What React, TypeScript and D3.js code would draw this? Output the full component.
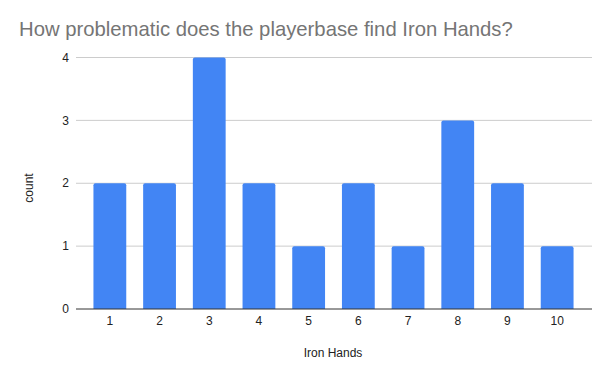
import React from "react";
import * as d3 from "d3";

const categories = ["1", "2", "3", "4", "5", "6", "7", "8", "9", "10"];
const counts = [2, 2, 4, 2, 1, 2, 1, 3, 2, 1];
const yTicks = [0, 1, 2, 3, 4];

const W = 610;
const H = 377;

export default function App() {
  const x = d3
    .scaleBand<string>()
    .domain(categories)
    .range([85, 582])
    .paddingInner(0.34)
    .paddingOuter(0.17);
  const y = d3.scaleLinear().domain([0, 4]).range([309, 57.5]);
  const font = "Arial, 'Liberation Sans', sans-serif";
  const r = 2;
  return (
    <svg
      width={W}
      height={H}
      style={{ position: "absolute", left: 0, top: 0, background: "#fff" }}
      fontFamily={font}
    >
      <text x={19} y={36} fontSize={20.3} fill="#757575">
        How problematic does the playerbase find Iron Hands?
      </text>
      {yTicks.map((t) => (
        <g key={t}>
          {t !== 0 && (
            <line x1={76} x2={592} y1={y(t)} y2={y(t)} stroke="#cccccc" strokeWidth={1} />
          )}
          <text x={69} y={y(t)} dy="0.35em" textAnchor="end" fontSize={12} fill="#222">
            {t}
          </text>
        </g>
      ))}
      {categories.map((c, i) => {
        const x0 = x(c)!;
        const w = x.bandwidth();
        const top = y(counts[i]);
        const bottom = y(0);
        const p = d3.path();
        p.moveTo(x0, bottom);
        p.lineTo(x0, top + r);
        p.quadraticCurveTo(x0, top, x0 + r, top);
        p.lineTo(x0 + w - r, top);
        p.quadraticCurveTo(x0 + w, top, x0 + w, top + r);
        p.lineTo(x0 + w, bottom);
        p.closePath();
        return <path key={c} d={p.toString()} fill="#4285f4" />;
      })}
      <line x1={76} x2={592} y1={y(0)} y2={y(0)} stroke="#333" strokeWidth={1} />
      {categories.map((c) => (
        <text
          key={c}
          x={x(c)! + x.bandwidth() / 2}
          y={321}
          dy="0.35em"
          textAnchor="middle"
          fontSize={12}
          fill="#222"
        >
          {c}
        </text>
      ))}
      <text x={333} y={356.5} textAnchor="middle" fontSize={12} fill="#222">
        Iron Hands
      </text>
      <text
        transform={`translate(33,188) rotate(-90)`}
        textAnchor="middle"
        fontSize={12}
        fill="#222"
      >
        count
      </text>
    </svg>
  );
}
